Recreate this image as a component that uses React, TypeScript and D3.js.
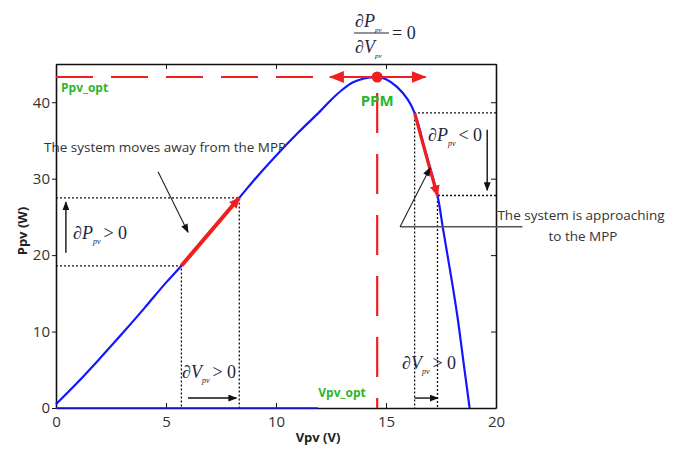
import React, { useEffect, useRef } from 'react';
import * as d3 from 'd3';

// P-V curve of the panel
const curveV = [0, 1, 2, 3, 4, 5, 5.7, 7, 8.33, 9, 10, 11, 12, 12.5, 13, 13.5, 14, 14.6, 15, 15.5, 16, 16.3, 16.8, 17.34, 17.6, 18.0, 18.25, 18.5, 18.8];
const curveP = [0.5, 3.4, 6.5, 9.7, 13.0, 16.4, 18.6, 23.0, 27.5, 29.8, 33.0, 36.0, 38.8, 40.3, 41.6, 42.6, 43.1, 43.3, 43.0, 42.0, 40.3, 38.6, 33.5, 27.8, 23.3, 16.5, 11.9, 6.5, 0];
const baseV = [0, 11.9];

const xTicks = [0, 5, 10, 15, 20];
const yTicks = [0, 10, 20, 30, 40];

const mppV = 14.6;
const mppP = 43.3;
const leftStepV = [5.7, 8.33];
const leftStepP = [18.6, 27.5];
const rightStepV = [16.3, 17.34];
const rightStepP = [38.6, 27.8];

const W = 680;
const H = 450;
const serif = '"Liberation Serif", "DejaVu Serif", serif';
const sans = '"Open Sans", "Liberation Sans", sans-serif';
const green = '#2db52d';
const red = '#f01e1e';
const ink = '#1e2640';

const App = () => {
  const ref = useRef<SVGSVGElement>(null);

  useEffect(() => {
    const svg = d3.select(ref.current);
    svg.selectAll('*').remove();

    const x = d3.scaleLinear().domain([0, 20]).range([56, 496]);
    const y = d3.scaleLinear().domain([0, 45]).range([408, 64]);

    const defs = svg.append('defs');
    const marker = (id: string, color: string, w: number, h: number) => {
      defs.append('marker')
        .attr('id', id)
        .attr('viewBox', `0 0 ${w} ${h}`)
        .attr('refX', w - 1)
        .attr('refY', h / 2)
        .attr('markerWidth', w)
        .attr('markerHeight', h)
        .attr('markerUnits', 'userSpaceOnUse')
        .attr('orient', 'auto-start-reverse')
        .append('path')
        .attr('d', `M0,0L${w},${h / 2}L0,${h}Z`)
        .attr('fill', color);
    };
    marker('blk', '#111', 9, 7);
    marker('redS', red, 11, 10);
    marker('redL', red, 15, 12);

    // axes
    const axisStyle = (g: any) => {
      g.select('.domain').attr('stroke', '#111').attr('stroke-width', 1.6);
      g.selectAll('.tick line').attr('stroke', '#111').attr('stroke-width', 1);
      g.selectAll('.tick text')
        .attr('fill', '#333')
        .style('font-family', sans)
        .style('font-size', '15px');
    };
    svg.append('g')
      .attr('transform', `translate(0,${y(0)})`)
      .call(d3.axisBottom(x).tickValues(xTicks).tickSize(-5).tickSizeOuter(0).tickPadding(8))
      .call(axisStyle);
    svg.append('g')
      .attr('transform', `translate(${x(0)},0)`)
      .call(d3.axisLeft(y).tickValues(yTicks).tickSize(4).tickSizeOuter(0).tickPadding(2))
      .call(axisStyle);
    svg.append('g')
      .attr('transform', `translate(0,${y(45)})`)
      .call(d3.axisTop(x).tickValues(xTicks).tickSize(-5).tickSizeOuter(0).tickFormat(() => ''))
      .call(axisStyle);
    svg.append('g')
      .attr('transform', `translate(${x(20)},0)`)
      .call(d3.axisRight(y).tickValues(yTicks).tickSize(-5).tickSizeOuter(0).tickFormat(() => ''))
      .call(axisStyle);

    svg.append('text')
      .attr('x', 318).attr('y', 442)
      .attr('text-anchor', 'middle')
      .style('font-family', sans).style('font-size', '13px').style('font-weight', 700)
      .attr('fill', '#222')
      .text('Vpv (V)');
    svg.append('text')
      .attr('transform', 'translate(27,231) rotate(-90)')
      .attr('text-anchor', 'middle')
      .style('font-family', sans).style('font-size', '13px').style('font-weight', 700)
      .attr('fill', '#222')
      .text('Ppv (W)');

    // dotted guides
    const dotted = (pts: [number, number][]) =>
      svg.append('path')
        .attr('d', d3.line()(pts.map(([v, p]) => [x(v), y(p)] as [number, number])))
        .attr('fill', 'none')
        .attr('stroke', '#111')
        .attr('stroke-width', 1.3)
        .attr('stroke-dasharray', '2,2');
    leftStepV.forEach((v, i) => dotted([[0, leftStepP[i]], [v, leftStepP[i]], [v, 0]]));
    rightStepV.forEach((v, i) => dotted([[20, rightStepP[i]], [v, rightStepP[i]], [v, 0]]));

    // optimum dashed lines
    svg.append('line')
      .attr('x1', x(0)).attr('x2', x(11.8))
      .attr('y1', y(mppP)).attr('y2', y(mppP))
      .attr('stroke', red).attr('stroke-width', 2.2)
      .attr('stroke-dasharray', '37,18');
    svg.append('line')
      .attr('x1', x(mppV)).attr('x2', x(mppV))
      .attr('y1', y(0)).attr('y2', y(mppP))
      .attr('stroke', red).attr('stroke-width', 2.2)
      .attr('stroke-dasharray', '10,21,40,21,40,21,40,21,40,21,40,21');

    // curve
    const pts = curveV.map((v, i) => [v, curveP[i]] as [number, number]);
    const line = d3.line<[number, number]>()
      .x(d => x(d[0]))
      .y(d => y(d[1]))
      .curve(d3.curveCatmullRom);
    svg.append('path')
      .attr('d', line(pts))
      .attr('fill', 'none')
      .attr('stroke', '#1515ff')
      .attr('stroke-width', 2.2);
    svg.append('path')
      .attr('d', line(baseV.map(v => [v, 0] as [number, number])))
      .attr('fill', 'none')
      .attr('stroke', '#1515ff')
      .attr('stroke-width', 1.6);

    // red steps
    svg.append('line')
      .attr('x1', x(leftStepV[0])).attr('y1', y(leftStepP[0]))
      .attr('x2', x(leftStepV[1])).attr('y2', y(leftStepP[1]))
      .attr('stroke', red).attr('stroke-width', 4)
      .attr('marker-end', 'url(#redS)');
    svg.append('path')
      .attr('d', line([[rightStepV[0], rightStepP[0]], [16.8, 33.3], [rightStepV[1], rightStepP[1]]]))
      .attr('fill', 'none')
      .attr('stroke', red).attr('stroke-width', 3.2)
      .attr('marker-end', 'url(#redS)');

    // MPP double arrow and point
    svg.append('line')
      .attr('x1', x(12.45)).attr('x2', x(16.8))
      .attr('y1', y(mppP)).attr('y2', y(mppP))
      .attr('stroke', red).attr('stroke-width', 2.2)
      .attr('marker-start', 'url(#redL)')
      .attr('marker-end', 'url(#redL)');
    svg.append('circle')
      .attr('cx', x(mppV)).attr('cy', y(mppP)).attr('r', 5.5)
      .attr('fill', red);

    // black arrows
    const arrow = (pts: [number, number][], color = '#111', width = 1.4) =>
      svg.append('path')
        .attr('d', d3.line()(pts.map(([v, p]) => [x(v), y(p)] as [number, number])))
        .attr('fill', 'none')
        .attr('stroke', color)
        .attr('stroke-width', width)
        .attr('marker-end', 'url(#blk)');
    arrow([[0.45, 20.3], [0.45, 26.9]]);
    arrow([[19.6, 36.4], [19.6, 28.5]]);
    arrow([[6.0, 1.3], [8.2, 1.3]]);
    arrow([[16.3, 1.3], [17.35, 1.3]]);
    arrow([[4.64, 30.9], [6.0, 23.0]], '#222', 1.1);
    svg.append('path')
      .attr('d', `M${x(21.2)},${y(23.7)}L${x(15.64)},${y(23.7)}`)
      .attr('stroke', '#555').attr('stroke-width', 1.5);
    arrow([[15.64, 23.7], [17.0, 31.4]], '#222', 1.1);

    // green labels
    const greenText = (tx: number, ty: number, s: string, size: number, anchor = 'start') =>
      svg.append('text')
        .attr('x', tx).attr('y', ty)
        .attr('text-anchor', anchor)
        .attr('fill', green)
        .style('font-family', sans).style('font-size', `${size}px`).style('font-weight', 700)
        .text(s);
    greenText(61, 92, 'Ppv_opt', 12);
    greenText(x(mppV), 106, 'PPM', 15, 'middle');
    greenText(342, 397, 'Vpv_opt', 12, 'middle');

    // plain notes
    const note = (tx: number, ty: number, s: string, anchor = 'start') =>
      svg.append('text')
        .attr('x', tx).attr('y', ty)
        .attr('text-anchor', anchor)
        .attr('fill', '#333')
        .style('font-family', sans).style('font-size', '13.5px')
        .text(s);
    note(44, 152, 'The system moves away from the MPP');
    note(581, 220, 'The system is approaching', 'middle');
    note(583, 241, 'to the MPP', 'middle');

    // partial derivative labels
    const deriv = (tx: number, ty: number, sym: string, rest: string) => {
      const t = svg.append('text')
        .attr('x', tx).attr('y', ty)
        .attr('fill', ink)
        .style('font-family', serif).style('font-size', '18px');
      t.append('tspan').style('font-style', 'italic').text(`∂${sym}`);
      t.append('tspan').attr('dy', 5).style('font-size', '8px').style('font-style', 'italic').text('pv');
      t.append('tspan').attr('dy', -5).attr('dx', 3).text(rest);
    };
    deriv(73, 239, 'P', '> 0');
    deriv(428, 141, 'P', '< 0');
    deriv(182, 378, 'V', '> 0');
    deriv(402, 369, 'V', '> 0');

    // equation dP/dV = 0
    const eq = svg.append('g').attr('fill', ink)
      .style('font-family', serif).style('font-size', '18px');
    const num = eq.append('text').attr('x', 355).attr('y', 27);
    num.append('tspan').style('font-style', 'italic').text('∂P');
    num.append('tspan').attr('dy', 5).style('font-size', '7px').style('font-style', 'italic').text('pv');
    eq.append('line')
      .attr('x1', 354).attr('x2', 389).attr('y1', 33).attr('y2', 33)
      .attr('stroke', ink).attr('stroke-width', 1.2);
    const den = eq.append('text').attr('x', 355).attr('y', 53);
    den.append('tspan').style('font-style', 'italic').text('∂V');
    den.append('tspan').attr('dy', 5).style('font-size', '7px').style('font-style', 'italic').text('pv');
    eq.append('text').attr('x', 392).attr('y', 39).text('= 0');
  }, []);

  return (
    <svg
      ref={ref}
      width={W}
      height={H}
      style={{ position: 'absolute', left: 0, top: 0, background: '#fff' }}
    />
  );
};

export default App;
